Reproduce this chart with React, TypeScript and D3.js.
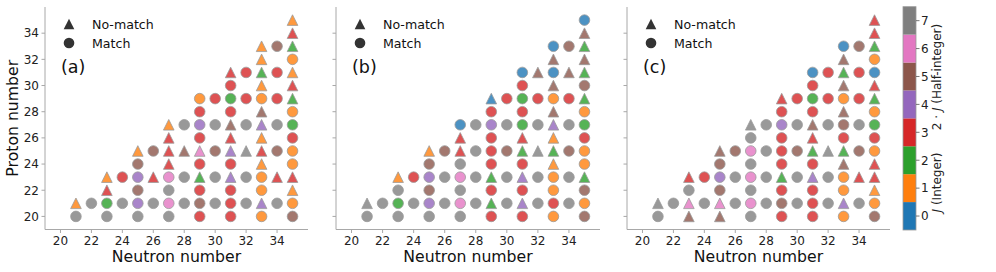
import React from "react";
import * as d3 from "d3";

// Proton number of each row, and the neutron numbers present in that row
const protonRows: number[] = [20, 21, 22, 23, 24, 25, 26, 27, 28, 29, 30, 31, 32, 33, 34, 35];
const neutronRows: number[][] = [
  [21, 23, 25, 27, 29, 31, 33, 35],
  [21, 22, 23, 24, 25, 26, 27, 28, 29, 30, 31, 32, 33, 34, 35],
  [23, 25, 27, 29, 31, 33, 35],
  [23, 24, 25, 26, 27, 28, 29, 30, 31, 32, 33, 34, 35],
  [25, 27, 29, 31, 33, 35],
  [25, 26, 27, 28, 29, 30, 31, 32, 33, 34, 35],
  [27, 29, 31, 33, 35],
  [27, 28, 29, 30, 31, 32, 33, 34, 35],
  [29, 31, 33, 35],
  [29, 30, 31, 32, 33, 34, 35],
  [31, 33, 35],
  [31, 32, 33, 34, 35],
  [33, 35],
  [33, 34, 35],
  [35],
  [35],
];

// Panel (a): colour value (J or 2J) and match flag (1 = match, 0 = no-match)
const valuesA: number[][] = [
  [7, 7, 7, 7, 3, 3, 1, 5],
  [1, 7, 2, 7, 4, 7, 6, 7, 5, 7, 3, 7, 4, 7, 1],
  [3, 5, 7, 3, 3, 1, 1],
  [1, 3, 4, 3, 6, 7, 2, 7, 4, 7, 1, 3, 3],
  [5, 3, 3, 3, 1, 1],
  [1, 5, 3, 5, 6, 5, 4, 7, 3, 5, 1],
  [3, 3, 3, 1, 3],
  [1, 7, 4, 7, 5, 7, 4, 7, 2],
  [3, 3, 5, 1],
  [1, 3, 2, 3, 1, 3, 2],
  [3, 1, 3],
  [3, 3, 2, 3, 1],
  [1, 1],
  [1, 5, 2],
  [3],
  [1],
];
const matchA: number[][] = [
  [1, 1, 1, 1, 1, 1, 1, 1],
  [0, 1, 1, 1, 1, 1, 1, 1, 1, 1, 1, 1, 0, 1, 1],
  [0, 1, 1, 1, 1, 1, 0],
  [0, 1, 1, 0, 1, 1, 0, 1, 0, 1, 1, 0, 0],
  [1, 0, 1, 1, 0, 1],
  [0, 1, 0, 0, 0, 1, 0, 0, 0, 1, 1],
  [0, 1, 0, 0, 1],
  [0, 1, 1, 1, 0, 1, 0, 1, 1],
  [1, 1, 0, 1],
  [1, 1, 1, 1, 1, 1, 0],
  [1, 0, 0],
  [0, 1, 0, 1, 0],
  [0, 1],
  [0, 1, 0],
  [0],
  [0],
];

// Panel (b)
const valuesB: number[][] = [
  [7, 7, 7, 7, 3, 3, 1, 5],
  [7, 7, 2, 7, 4, 7, 6, 7, 2, 7, 4, 7, 3, 7, 1],
  [7, 5, 7, 3, 3, 1, 5],
  [1, 3, 4, 7, 6, 7, 2, 7, 4, 7, 1, 7, 2],
  [5, 7, 3, 3, 1, 1],
  [1, 5, 3, 7, 3, 5, 2, 7, 2, 5, 1],
  [3, 3, 3, 1, 3],
  [0, 7, 4, 7, 2, 7, 4, 7, 2],
  [3, 3, 5, 1],
  [0, 3, 2, 3, 1, 3, 2],
  [3, 5, 5],
  [0, 5, 0, 5, 2],
  [5, 5],
  [0, 5, 2],
  [5],
  [0],
];
const matchB: number[][] = [
  [1, 1, 1, 1, 1, 1, 1, 1],
  [0, 1, 1, 1, 1, 1, 1, 1, 0, 1, 0, 1, 1, 1, 1],
  [1, 1, 1, 1, 1, 1, 1],
  [0, 1, 1, 1, 1, 1, 0, 1, 0, 1, 1, 1, 0],
  [1, 1, 1, 1, 0, 1],
  [0, 1, 0, 1, 1, 1, 0, 0, 0, 1, 1],
  [0, 1, 0, 0, 1],
  [1, 1, 1, 1, 1, 1, 0, 1, 1],
  [1, 1, 0, 1],
  [0, 1, 1, 1, 1, 1, 0],
  [1, 0, 1],
  [1, 0, 1, 0, 0],
  [0, 0],
  [1, 1, 0],
  [0],
  [1],
];

// Panel (c)
const valuesC: number[][] = [
  [7, 5, 5, 7, 3, 3, 1, 5],
  [7, 7, 6, 7, 6, 7, 6, 7, 5, 7, 3, 7, 4, 7, 1],
  [7, 5, 7, 3, 3, 1, 1],
  [3, 3, 4, 7, 6, 7, 2, 7, 4, 7, 1, 3, 3],
  [5, 7, 3, 3, 5, 3],
  [5, 5, 6, 7, 3, 5, 2, 7, 2, 5, 1],
  [7, 3, 3, 3, 3],
  [7, 7, 4, 7, 5, 7, 5, 7, 2],
  [3, 3, 5, 1],
  [3, 3, 2, 3, 1, 3, 2],
  [3, 5, 3],
  [0, 3, 2, 3, 0],
  [5, 1],
  [0, 5, 2],
  [3],
  [3],
];
const matchC: number[][] = [
  [1, 0, 0, 1, 1, 1, 1, 1],
  [0, 1, 0, 1, 0, 1, 1, 1, 1, 1, 1, 1, 0, 1, 1],
  [1, 1, 1, 1, 1, 1, 0],
  [0, 1, 1, 1, 1, 1, 0, 1, 0, 1, 1, 0, 0],
  [1, 1, 1, 1, 0, 0],
  [0, 1, 1, 1, 1, 1, 0, 0, 0, 1, 1],
  [1, 1, 0, 1, 1],
  [0, 1, 1, 1, 0, 1, 1, 1, 1],
  [1, 1, 0, 1],
  [0, 1, 1, 1, 1, 1, 0],
  [1, 0, 0],
  [1, 1, 0, 1, 1],
  [0, 1],
  [1, 1, 0],
  [0],
  [0],
];

const panelLabels = ["(a)", "(b)", "(c)"];
const axisTicks = [20, 22, 24, 26, 28, 30, 32, 34];
const colorbarTicks = [0, 1, 2, 3, 4, 5, 6, 7];
const legendLabels = ["No-match", "Match"];

const FONT = "DejaVu Sans, sans-serif";
const palette = d3.schemeCategory10.slice(0, 8);

type Pt = { n: number; z: number; v: number; m: number };
function buildPoints(values: number[][], match: number[][]): Pt[] {
  const out: Pt[] = [];
  protonRows.forEach((z, i) => {
    neutronRows[i].forEach((n, j) => {
      out.push({ n, z, v: values[i][j], m: match[i][j] });
    });
  });
  return out;
}

const panels = [
  { x0: 45, x1: 308, pts: buildPoints(valuesA, matchA), showY: true },
  { x0: 336, x1: 600, pts: buildPoints(valuesB, matchB), showY: false },
  { x0: 627, x1: 890, pts: buildPoints(valuesC, matchC), showY: false },
];

const yTop = 7;
const yBottom = 229.5;
const MS = 10.6; // marker size

function triPath(cx: number, cy: number, s: number) {
  const h = s / 2;
  return `M${cx},${cy - h}L${cx + h},${cy + h}L${cx - h},${cy + h}Z`;
}

function Marker({ cx, cy, tri, fill, stroke, opacity }: any) {
  if (tri)
    return <path d={triPath(cx, cy, MS)} fill={fill} fillOpacity={opacity} stroke={stroke} strokeWidth={0.8} />;
  return <circle cx={cx} cy={cy} r={MS / 2} fill={fill} fillOpacity={opacity} stroke={stroke} strokeWidth={0.8} />;
}

function Panel({ p, idx }: any) {
  const x = d3.scaleLinear().domain([19, 36]).range([p.x0, p.x1]);
  const y = d3.scaleLinear().domain([19, 36]).range([yBottom, yTop]);
  const spine = "#a8a8a8";
  const lx = p.x0 + 24;
  return (
    <g>
      <line x1={p.x0} x2={p.x0} y1={yTop} y2={yBottom} stroke={spine} strokeWidth={1} />
      <line x1={p.x0} x2={p.x1} y1={yBottom} y2={yBottom} stroke={spine} strokeWidth={1} />
      {axisTicks.map((t) => (
        <g key={"x" + t}>
          <line x1={x(t)} x2={x(t)} y1={yBottom} y2={yBottom + 3.5} stroke={spine} strokeWidth={1} />
          <text x={x(t)} y={yBottom + 15} fontSize={12} textAnchor="middle" fill="#222" fontFamily={FONT}>
            {t}
          </text>
        </g>
      ))}
      {axisTicks.map((t) => (
        <g key={"y" + t}>
          <line x1={p.x0 - 3.5} x2={p.x0} y1={y(t)} y2={y(t)} stroke={spine} strokeWidth={1} />
          {p.showY && (
            <text x={p.x0 - 6} y={y(t) + 4.3} fontSize={12} textAnchor="end" fill="#222" fontFamily={FONT}>
              {t}
            </text>
          )}
        </g>
      ))}
      <text x={(p.x0 + p.x1) / 2} y={261.5} fontSize={15.7} textAnchor="middle" fill="#111" fontFamily={FONT}>
        Neutron number
      </text>
      {p.showY && (
        <text
          transform={`translate(${18},${(yTop + yBottom) / 2}) rotate(-90)`}
          fontSize={15.7}
          textAnchor="middle"
          fill="#111"
          fontFamily={FONT}
        >
          Proton number
        </text>
      )}
      {p.pts.map((d: Pt, i: number) => (
        <Marker
          key={i}
          cx={x(d.n)}
          cy={y(d.z)}
          tri={d.m === 0}
          fill={palette[d.v]}
          stroke="#9a9a9a"
          opacity={0.8}
        />
      ))}
      {/* legend */}
      <Marker cx={lx} cy={24} tri={true} fill="#333" stroke="none" opacity={1} />
      <Marker cx={lx} cy={43} tri={false} fill="#333" stroke="none" opacity={1} />
      <text x={lx + 23} y={28.5} fontSize={12.6} fill="#111" fontFamily={FONT}>
        {legendLabels[0]}
      </text>
      <text x={lx + 23} y={47.5} fontSize={12.6} fill="#111" fontFamily={FONT}>
        {legendLabels[1]}
      </text>
      <text x={p.x0 + 16} y={73} fontSize={17.5} fill="#111" fontFamily={FONT}>
        {panelLabels[idx]}
      </text>
    </g>
  );
}

function Colorbar() {
  const x0 = 903;
  const w = 13;
  const cy = d3.scaleLinear().domain([-0.5, 7.5]).range([230, 6.7]);
  return (
    <g>
      {colorbarTicks.map((v) => (
        <rect key={v} x={x0} y={cy(v + 0.5)} width={w} height={cy(v - 0.5) - cy(v + 0.5)} fill={palette[v]} />
      ))}
      <rect x={x0} y={cy(7.5)} width={w} height={cy(-0.5) - cy(7.5)} fill="none" stroke="#999" strokeWidth={0.8} />
      {colorbarTicks.map((v) => (
        <g key={"t" + v}>
          <line x1={x0 + w} x2={x0 + w + 3.5} y1={cy(v)} y2={cy(v)} stroke="#555" strokeWidth={0.8} />
          <text x={x0 + w + 5} y={cy(v) + 4.3} fontSize={12} fill="#222" fontFamily={FONT}>
            {v}
          </text>
        </g>
      ))}
      <text transform={`translate(941,182.5) rotate(-90)`} fontSize={12} textAnchor="middle" fill="#222" fontFamily={FONT}>
        <tspan fontStyle="italic">J</tspan> (Integer)
      </text>
      <text transform={`translate(941,77) rotate(-90)`} fontSize={12} textAnchor="middle" fill="#222" fontFamily={FONT}>
        2 · <tspan fontStyle="italic">J</tspan> (Half-integer)
      </text>
    </g>
  );
}

export default function App() {
  return (
    <div style={{ position: "fixed", left: 0, top: 0, width: 996, height: 272, background: "#fff" }}>
      <svg width={996} height={272} style={{ display: "block" }}>
        <rect width={996} height={272} fill="#fff" />
        {panels.map((p, i) => (
          <Panel key={i} p={p} idx={i} />
        ))}
        <Colorbar />
      </svg>
    </div>
  );
}
